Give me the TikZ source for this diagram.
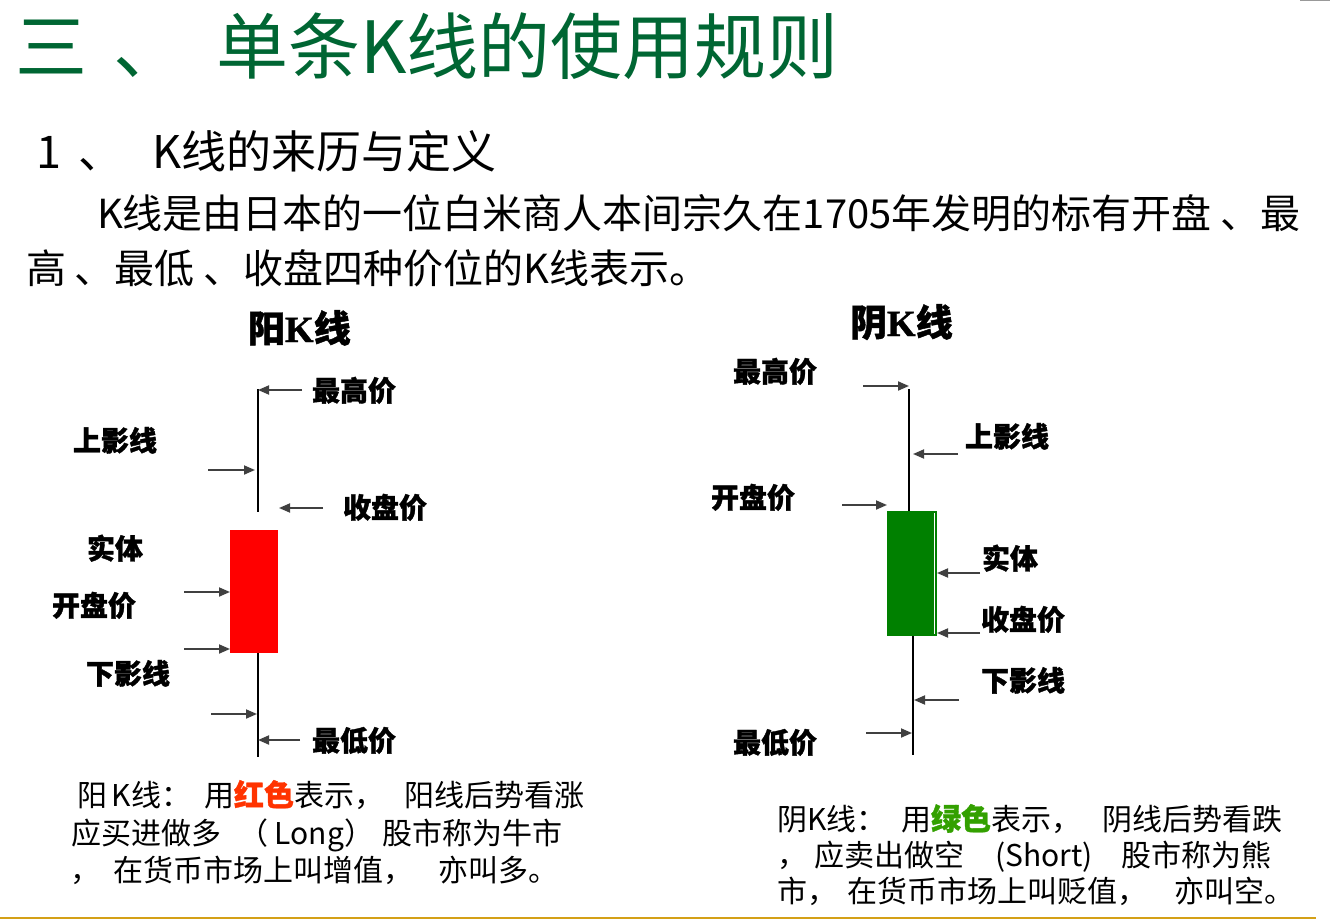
\documentclass[tikz,border=0pt]{standalone}
\usepackage{fontspec}
\setmainfont{Noto Sans CJK SC}[BoldFeatures={FakeBold=1.2}]
\newfontfamily\serifb{Liberation Serif}[BoldFeatures={FakeBold=1.2}]
\usetikzlibrary{arrows.meta}
\definecolor{titlegreen}{HTML}{006633}
\definecolor{hong}{HTML}{FF3300}
\definecolor{lv}{HTML}{33A000}
\definecolor{bodygreen}{HTML}{008000}
\definecolor{gold}{HTML}{D4A017}
\tikzset{
  txt/.style={anchor=base west, inner sep=0pt, outer sep=0pt},
  ttl/.style={txt, text=titlegreen, font=\fontsize{72}{72}\selectfont},
  sub/.style={txt, font=\fontsize{45}{45}\selectfont},
  para/.style={txt, font=\fontsize{40}{40}\selectfont},
  head/.style={txt, font=\bfseries\fontsize{37}{37}\selectfont},
  lbl/.style={txt, font=\bfseries\fontsize{28}{28}\selectfont},
  note/.style={txt, font=\fontsize{30}{30}\selectfont},
  ptr/.style={draw=black!75, line width=1.8pt, -{Triangle[length=11pt,width=9pt]}},
  wick/.style={draw=black, line width=1.6pt},
}
\begin{document}
\begin{tikzpicture}[x=1pt,y=-1pt]
\useasboundingbox (0,0) rectangle (1330,920);
% decorations
\draw[black!40, line width=2pt] (1300,0.5) -- (1330,0.5);
\draw[gold, line width=2pt] (0,918) -- (1316,918);
% title
\node[ttl] (t1) at (16,74) {三};
\node[ttl] (t2) at (113,74) {、};
\node[ttl] (t3) at (216,74) {单条K线的使用规则};
% subheading
\node[sub] (s1) at (36,169) {1};
\node[sub] (s2) at (78,169) {、};
\node[sub] (s3) at (152,169) {K线的来历与定义};
% paragraph
\node[para] (p1) at (97,228) {K线是由日本的一位白米商人本间宗久在1705年发明的标有开盘 、最};
\node[para] (p2) at (26,283) {高 、最低 、收盘四种价位的K线表示。};
% headings
\node[head] (hy) at (248,342) {阳{\serifb\bfseries K}线};
\node[head] (hn) at (850,336) {阴{\serifb\bfseries K}线};

% ===== left candle (yang) =====
\node[fill=red, minimum width=48pt, minimum height=123pt, inner sep=0pt] (Lbody) at (254,591.5) {};
\coordinate (LwTop) at (258,389);
\coordinate (LwUp) at (258,512);
\coordinate (LwLo) at (258,757);
\draw[wick] (LwTop) -- (LwUp);
\draw[wick] (Lbody.south -| LwTop) -- (LwLo);
\node[lbl] (Lhi) at (312,401) {最高价};
\node[lbl] (Lup) at (73,451) {上影线};
\node[lbl] (Lcl) at (343,518) {收盘价};
\node[lbl] (Lst) at (87,559) {实体};
\node[lbl] (Lop) at (52,616) {开盘价};
\node[lbl] (Ldn) at (86,684) {下影线};
\node[lbl] (Llo) at (312,751) {最低价};
\coordinate (a1s) at (302,390); \coordinate (a1e) at (258,390);
\coordinate (a2s) at (208,470); \coordinate (a2e) at (255,470);
\coordinate (a3s) at (323,508); \coordinate (a3e) at (279,508);
\coordinate (a4s) at (184,592); \coordinate (a4e) at (230,592);
\coordinate (a5s) at (184,649); \coordinate (a5e) at (230,649);
\coordinate (a6s) at (211,714); \coordinate (a6e) at (257,714);
\coordinate (a7s) at (300,740); \coordinate (a7e) at (258,740);
\draw[ptr] (a1s) -- (a1e);
\draw[ptr] (a2s) -- (a2e);
\draw[ptr] (a3s) -- (a3e);
\draw[ptr] (a4s) -- (a4e);
\draw[ptr] (a5s) -- (a5e);
\draw[ptr] (a6s) -- (a6e);
\draw[ptr] (a7s) -- (a7e);

% ===== right candle (yin) =====
\node[fill=bodygreen, minimum width=50pt, minimum height=125pt, inner sep=0pt] (Rbody) at (912,573.5) {};
\draw[white, line width=1pt] (934.3,513) -- (934.3,634);
\coordinate (RwTop) at (909,389);
\coordinate (RwLo) at (913,755);
\draw[wick] (RwTop) -- (RwTop |- Rbody.north);
\draw[wick] (RwLo |- Rbody.south) -- (RwLo);
\node[lbl] (Rhi) at (733,382) {最高价};
\node[lbl] (Rup) at (965,447) {上影线};
\node[lbl] (Rop) at (711,508) {开盘价};
\node[lbl] (Rst) at (982,569) {实体};
\node[lbl] (Rcl) at (981,630) {收盘价};
\node[lbl] (Rdn) at (981,691) {下影线};
\node[lbl] (Rlo) at (733,753) {最低价};
\coordinate (b1s) at (863,386); \coordinate (b1e) at (909,386);
\coordinate (b2s) at (958,454); \coordinate (b2e) at (913,454);
\coordinate (b3s) at (842,505); \coordinate (b3e) at (887,505);
\coordinate (b4s) at (980,573); \coordinate (b4e) at (937,573);
\coordinate (b5s) at (980,633); \coordinate (b5e) at (937,633);
\coordinate (b6s) at (959,700); \coordinate (b6e) at (914,700);
\coordinate (b7s) at (866,733); \coordinate (b7e) at (912,733);
\draw[ptr] (b1s) -- (b1e);
\draw[ptr] (b2s) -- (b2e);
\draw[ptr] (b3s) -- (b3e);
\draw[ptr] (b4s) -- (b4e);
\draw[ptr] (b5s) -- (b5e);
\draw[ptr] (b6s) -- (b6e);
\draw[ptr] (b7s) -- (b7e);

% ===== notes left =====
\node[note] (n11) at (77,806) {阳\,K线：};
\node[note] (n12) at (204,806) {用\textcolor{hong}{\bfseries 红色}表示，};
\node[note] (n13) at (404,806) {阳线后势看涨};
\node[note] (n21) at (71,844) {应买进做多};
\node[note] (n22) at (238,844) {（ Long）};
\node[note] (n23) at (382,844) {股市称为牛市};
\node[note] (n31) at (70,881) {，};
\node[note] (n32) at (113,881) {在货币市场上叫增值，};
\node[note] (n33) at (438,881) {亦叫多。};
% ===== notes right =====
\node[note] (m11) at (777,830) {阴K线：};
\node[note] (m12) at (901,830) {用\textcolor{lv}{\bfseries 绿色}表示，};
\node[note] (m13) at (1102,830) {阴线后势看跌};
\node[note] (m21) at (777,866) {，};
\node[note] (m22) at (814,866) {应卖出做空};
\node[note] (m23) at (995,866) {(Short)};
\node[note] (m24) at (1121,866) {股市称为熊};
\node[note] (m31) at (777,902) {市，};
\node[note] (m32) at (847,902) {在货币市场上叫贬值，};
\node[note] (m33) at (1174,902) {亦叫空。};
\end{tikzpicture}
\end{document}
